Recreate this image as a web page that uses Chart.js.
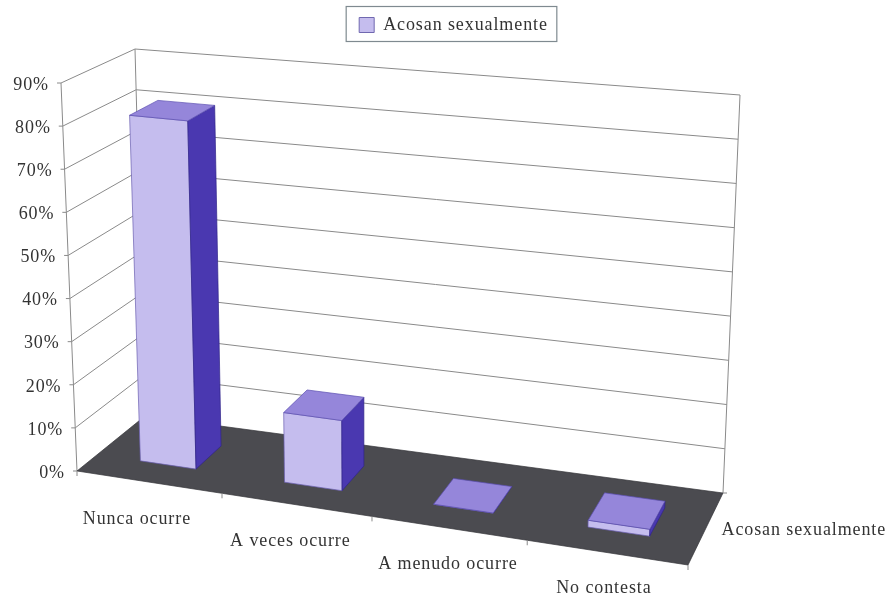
<!DOCTYPE html>
<html>
<head>
<meta charset="utf-8">
<title>Acosan sexualmente</title>
<script src="https://cdn.jsdelivr.net/npm/chart.js@4/dist/chart.umd.min.js"></script>
<style>
  html, body { margin: 0; padding: 0; background: #fff; }
  #chart { display: block; filter: blur(0.7px); }
</style>
</head>
<body>
<canvas id="chart" width="894" height="600"></canvas>
<script>
const categories = ["Nunca ocurre", "A veces ocurre", "A menudo ocurre", "No contesta"];
const seriesName = "Acosan sexualmente";
const seriesValues = [81, 16, 0, 1.5];
const yTicks = [0, 10, 20, 30, 40, 50, 60, 70, 80, 90];

const FONT = "Liberation Serif";
const TEXT = "#333333";
const GRID = "#8a8a8a";

// corners of the 3D box on the page: [u][v], floor and ceiling
const floorBox = { a: [77, 471], b: [688, 565], c: [145, 416], d: [723, 493] };
const topBox = { a: [61, 83], b: [704, 145], c: [135, 49], d: [740, 95] };
const DEPTH_FRONT = 0.3;
const DEPTH_BACK = 0.7;

// category labels sit a little off their slot centres
const labelDx = [-12, -6, -1, -3];
const labelDy = [37, 37, 36, 36];

// slight foreshortening along the category axis
function warp(u) {
  return (0.9335 * u) / (1 - 0.0665 * u);
}

function mix(p, q, t) {
  return [p[0] + (q[0] - p[0]) * t, p[1] + (q[1] - p[1]) * t];
}

function project(u, v, h) {
  const w = warp(u);
  const low = mix(mix(floorBox.a, floorBox.c, v), mix(floorBox.b, floorBox.d, v), w);
  const high = mix(mix(topBox.a, topBox.c, v), mix(topBox.b, topBox.d, v), w);
  return mix(low, high, h);
}

function heightOf(chart, value) {
  const { bottom, height } = chart.chartArea;
  return (bottom - chart.scales.y.getPixelForValue(value)) / height;
}

function poly(ctx, pts, fill, stroke) {
  ctx.beginPath();
  pts.forEach((p, i) => (i ? ctx.lineTo(p[0], p[1]) : ctx.moveTo(p[0], p[1])));
  ctx.closePath();
  if (fill) {
    ctx.fillStyle = fill;
    ctx.fill();
  }
  if (stroke) {
    ctx.strokeStyle = stroke;
    ctx.lineWidth = 0.7;
    ctx.stroke();
  }
}

function line(ctx, p, q) {
  ctx.beginPath();
  ctx.moveTo(p[0], p[1]);
  ctx.lineTo(q[0], q[1]);
  ctx.stroke();
}

function drawBox(ctx, chart) {
  ctx.strokeStyle = GRID;
  ctx.lineWidth = 1;
  chart.scales.y.ticks.forEach(t => {
    const h = heightOf(chart, t.value);
    const back = project(0, 1, h);
    const front = project(0, 0, h);
    if (t.value > 0) {
      line(ctx, front, back);
      line(ctx, back, project(1, 1, h));
    }
    line(ctx, front, [front[0] - 4, front[1]]);
  });
  line(ctx, project(0, 0, 0), project(0, 0, 1));
  line(ctx, project(0, 1, 0), project(0, 1, 1));
  line(ctx, project(1, 1, 0), project(1, 1, 1));

  poly(ctx, [project(0, 0, 0), project(1, 0, 0), project(1, 1, 0), project(0, 1, 0)], "#4b4b50", "#333338");

  // category ticks under the front edge, series tick on the right edge
  ctx.strokeStyle = GRID;
  ctx.lineWidth = 1;
  for (let i = 0; i <= categories.length; i++) {
    const p = project(i / categories.length, 0, 0);
    line(ctx, p, [p[0], p[1] + 5]);
  }
  const rightBack = project(1, 1, 0);
  line(ctx, rightBack, [rightBack[0] + 4, rightBack[1]]);
}

function drawBars(ctx, chart) {
  const { left, width, bottom, height } = chart.chartArea;
  chart.getDatasetMeta(0).data.forEach(bar => {
    const u0 = (bar.x - bar.width / 2 - left) / width;
    const u1 = (bar.x + bar.width / 2 - left) / width;
    const h = (bottom - bar.y) / height;
    const f = DEPTH_FRONT;
    const b = DEPTH_BACK;
    poly(ctx, [project(u0, f, 0), project(u1, f, 0), project(u1, f, h), project(u0, f, h)], "#c5bdee", "#6a5fb0");
    poly(ctx, [project(u1, f, 0), project(u1, b, 0), project(u1, b, h), project(u1, f, h)], "#4a38b0", "#2f2488");
    poly(ctx, [project(u0, f, h), project(u1, f, h), project(u1, b, h), project(u0, b, h)], "#9586da", "#5a4db0");
  });
}

function drawLabels(ctx, chart) {
  ctx.fillStyle = TEXT;
  ctx.font = `18px "${FONT}"`;
  ctx.textBaseline = "middle";

  ctx.textAlign = "right";
  chart.scales.y.ticks.forEach(t => {
    const p = project(0, 0, heightOf(chart, t.value));
    ctx.fillText(t.label, p[0] - 12, p[1] + 2);
  });

  ctx.textAlign = "center";
  chart.scales.x.getLabels().forEach((label, i) => {
    const p = project((i + 0.5) / categories.length, 0, 0);
    ctx.fillText(label, p[0] + labelDx[i], p[1] + labelDy[i]);
  });

  ctx.textAlign = "left";
  const side = project(1, 0.5, 0);
  ctx.fillText(seriesName, side[0] + 16, side[1] + 1);
}

const box3dPlugin = {
  id: "box3d",
  beforeLayout(chart) {
    chart.ctx.letterSpacing = "0.9px"; // the scan stretches the type sideways
  },
  beforeDatasetDraw(chart) {
    const ctx = chart.ctx;
    ctx.save();
    drawBox(ctx, chart);
    drawBars(ctx, chart);
    drawLabels(ctx, chart);
    ctx.restore();
    return false; // bars are painted in 3D above
  },
  afterDraw(chart) {
    const hit = chart.legend.legendHitBoxes[0];
    const ctx = chart.ctx;
    ctx.save();
    ctx.strokeStyle = "#7f8a90";
    ctx.lineWidth = 1.2;
    ctx.strokeRect(hit.left - 13, chart.legend.top - 1.5, hit.width + 22, chart.legend.height - 1);
    ctx.restore();
  }
};

new Chart(document.getElementById("chart"), {
  type: "bar",
  data: {
    labels: categories,
    datasets: [
      {
        label: seriesName,
        data: seriesValues,
        backgroundColor: "#c5bdee",
        borderColor: "#7068b0",
        borderWidth: 1,
        barPercentage: 0.39,
        categoryPercentage: 1,
      },
    ],
  },
  options: {
    responsive: false,
    animation: false,
    layout: { padding: { top: 8, left: 13 } },
    plugins: {
      tooltip: { enabled: false },
      legend: {
        display: true,
        position: "top",
        labels: {
          boxWidth: 15,
          boxHeight: 15,
          padding: 8,
          color: TEXT,
          font: { family: FONT, size: 18 },
        },
      },
    },
    scales: {
      x: { display: false },
      y: {
        display: false,
        min: 0,
        max: 90,
        ticks: { callback: value => `${value}%` },
        afterBuildTicks(scale) {
          scale.ticks = yTicks.map(value => ({ value }));
        },
      },
    },
  },
  plugins: [box3dPlugin],
});
</script>
</body>
</html>
